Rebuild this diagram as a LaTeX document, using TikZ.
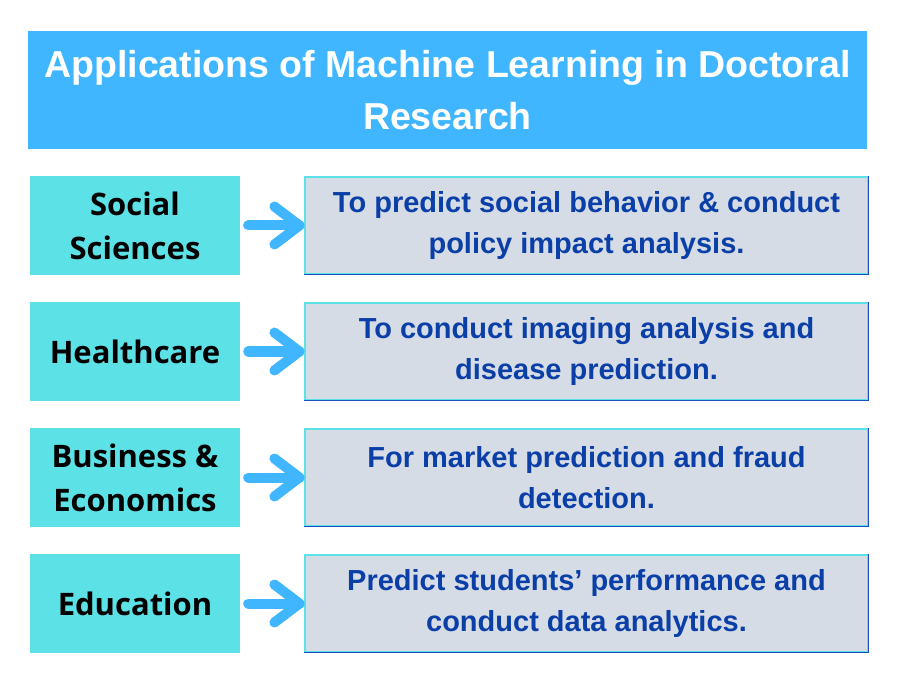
\documentclass[tikz,border=0pt]{standalone}
\usepackage{fontspec}
\setmainfont{Liberation Sans}
\newfontfamily\labelfont{Open Sans}
\usetikzlibrary{positioning}
\definecolor{titleblue}{HTML}{3FB6FF}
\definecolor{turq}{HTML}{5CE1E6}
\definecolor{boxgray}{HTML}{D6DCE5}
\definecolor{darkblue}{HTML}{0B3FA8}
\definecolor{edgeblue}{HTML}{1B4FBF}
\tikzset{
	field/.style={fill=turq, minimum width=210pt, minimum height=99pt, inner sep=0pt, align=center, font=\labelfont\bfseries\fontsize{31}{44}\selectfont},
	use/.style={fill=boxgray, draw=turq, line width=1.2pt, minimum width=563pt, minimum height=97pt, inner sep=0pt, align=center, text=darkblue, font=\bfseries\fontsize{29}{41}\selectfont},
	point/.style={line width=10pt, line cap=round, line join=round, titleblue}
}
\begin{document}
\begin{tikzpicture}[x=1pt, y=-1pt]
	\useasboundingbox (0,0) rectangle (899,684);
	\node [fill=titleblue, minimum width=839pt, minimum height=118pt, inner sep=0pt, align=center, text=white, font=\bfseries\fontsize{37.5}{52}\selectfont] (title) at (447.5,90) {Applications of Machine Learning in Doctoral\\Research};
	\foreach \i/\name/\text in {
		0/Social\\Sciences/To predict social behavior \& conduct\\policy impact analysis.,
		1/Healthcare/To conduct imaging analysis and\\disease prediction.,
		2/Business \&\\Economics/For market prediction and fraud\\detection.,
		3/Education/Predict students’ performance and\\conduct data analytics.}
	{
		\node [field] (f\i) at (135,225.5+126*\i) {\name};
		\node [use] (u\i) at (586.5,225.5+126*\i) {\text};
		\draw [edgeblue, line width=1.2pt] (u\i.north east) -- (u\i.south east) -- (u\i.south west);
		\coordinate (tip\i) at ([xshift=-5pt]u\i.west);
		\draw [point] ([xshift=8pt]f\i.east) -- (tip\i);
		\draw [point] ([xshift=-25pt, yshift=-19pt]tip\i) -- (tip\i) -- ([xshift=-25pt, yshift=19pt]tip\i);
	}
\end{tikzpicture}
\end{document}
